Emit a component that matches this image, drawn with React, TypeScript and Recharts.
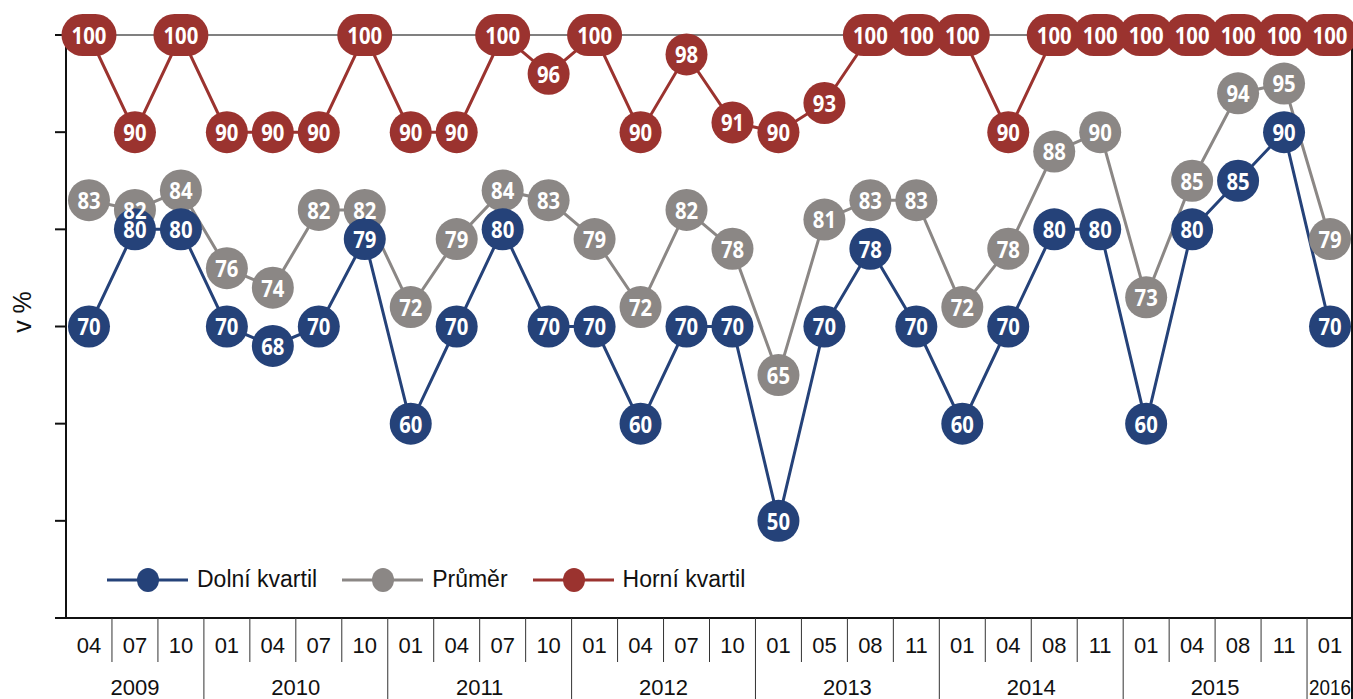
import React from 'react';
import { LineChart, Line, XAxis, YAxis, CartesianGrid, Legend, Customized } from 'recharts';

const months = ['04','07','10','01','04','07','10','01','04','07','10','01','04','07','10','01','05','08','11','01','04','08','11','01','04','08','11','01'];
const years = ['2009','2009','2009','2010','2010','2010','2010','2011','2011','2011','2011','2012','2012','2012','2012','2013','2013','2013','2013','2014','2014','2014','2014','2015','2015','2015','2015','2016'];
const dolni = [70,80,80,70,68,70,79,60,70,80,70,70,60,70,70,50,70,78,70,60,70,80,80,60,80,85,90,70];
const prumer = [83,82,84,76,74,82,82,72,79,84,83,79,72,82,78,65,81,83,83,72,78,88,90,73,85,94,95,79];
const horni = [100,90,100,90,90,90,100,90,90,100,96,100,90,98,91,90,93,100,100,100,90,100,100,100,100,100,100,100];
const yTicks = [40,50,60,70,80,90,100];

const SERIES = [
  { key: 'dolni', name: 'Dolní kvartil', color: '#254279' },
  { key: 'prumer', name: 'Průměr', color: '#8B8785' },
  { key: 'horni', name: 'Horní kvartil', color: '#9B332F' },
];

const data = months.map((m, i) => ({
  key: `${years[i]}-${m}-${i}`,
  dolni: dolni[i],
  prumer: prumer[i],
  horni: horni[i],
}));

const W = 1353;
const H = 699;
const LEFT = 66;
const TOP = 35;
const XH = 81;
const RIGHT = W;
const BOTTOM = H - XH;
const N = months.length;
const BW = (RIGHT - LEFT) / N;

const LABEL_FONT = "'Open Sans','DejaVu Sans Condensed',sans-serif";
const AXIS_FONT = "'Liberation Sans',Arial,sans-serif";

const pillBg = (color: string) => (p: any) => {
  const { x, y, value, index } = p;
  if (x == null || y == null) return null;
  const s = String(value);
  const w = s.length > 2 ? 55 : 42;
  return <rect key={`b-${color}-${index}`} x={x - w / 2} y={y - 21} width={w} height={42} rx={21} fill={color} />;
};

const pillText = (color: string) => (p: any) => {
  const { x, y, value, index } = p;
  if (x == null || y == null) return null;
  const s = String(value);
  return (
    <text key={`t-${color}-${index}`} x={x} y={y} dy="0.37em" textAnchor="middle" fill="#fff" fontWeight={700} fontSize={24} fontFamily={LABEL_FONT} textLength={s.length * 11.6} lengthAdjust="spacingAndGlyphs">{s}</text>
  );
};

const MonthTick = (props: any) => {
  const { x, payload } = props;
  const i = payload.index;
  const left = x - BW / 2;
  const yr = years[i];
  const first = i === 0 || years[i - 1] !== yr;
  const last = i === N - 1;
  const n = years.filter((v) => v === yr).length;
  return (
    <g>
      {i > 0 && <line x1={left} x2={left} y1={BOTTOM} y2={first ? H : 662} stroke="#333" strokeWidth={1} />}
      {last && <line x1={RIGHT - 1} x2={RIGHT - 1} y1={TOP} y2={H} stroke="#111" strokeWidth={2} />}
      <text x={x} y={653} textAnchor="middle" fontSize={22} fontFamily={AXIS_FONT} fill="#111">{months[i]}</text>
      {first && (
        n === 1 ? (
          <text x={left + BW / 2} y={695} textAnchor="middle" fontSize={22} fontFamily={AXIS_FONT} fill="#111" textLength={BW - 4} lengthAdjust="spacingAndGlyphs">{yr}</text>
        ) : (
          <text x={left + (n * BW) / 2} y={695} textAnchor="middle" fontSize={22} fontFamily={AXIS_FONT} fill="#111">{yr}</text>
        )
      )}
    </g>
  );
};

const LegendContent = () => (
  <div style={{ display: 'flex', alignItems: 'center', fontFamily: AXIS_FONT, fontSize: 23, color: '#111', whiteSpace: 'nowrap' }}>
    {SERIES.map((s) => (
      <div key={s.key} style={{ display: 'flex', alignItems: 'center', marginRight: 25 }}>
        <svg width={81} height={26}>
          <line x1={0} x2={81} y1={13} y2={13} stroke={s.color} strokeWidth={3} />
          <ellipse cx={41} cy={13} rx={11} ry={12} fill={s.color} />
        </svg>
        <span style={{ marginLeft: 9 }}>{s.name}</span>
      </div>
    ))}
  </div>
);

const YLabel = () => (
  <text x={31} y={312} transform="rotate(-90 31 312)" textAnchor="middle" fontSize={25} fontFamily={AXIS_FONT} fill="#111">v %</text>
);

const LABEL_ORDER = [SERIES[1], SERIES[0], SERIES[2]];

export default function App() {
  return (
    <div style={{ position: 'absolute', left: 0, top: 0, width: W, height: H, background: '#fff' }}>
      <LineChart width={W} height={H} data={data} margin={{ top: TOP, right: 0, bottom: 0, left: 0 }}>
        <CartesianGrid horizontal vertical={false} horizontalValues={[100]} stroke="#808080" strokeWidth={2} />
        <XAxis dataKey="key" interval={0} tickLine={false} tickSize={0} tickMargin={0} height={XH} padding={{ left: BW / 2, right: BW / 2 }} axisLine={{ stroke: '#111', strokeWidth: 2 }} tick={<MonthTick />} />
        <YAxis width={LEFT} domain={[40, 100]} ticks={yTicks} tickSize={11} tickLine={{ stroke: '#111', strokeWidth: 2 }} axisLine={{ stroke: '#111', strokeWidth: 2 }} tick={() => <g />} />
        {SERIES.map((s) => (
          <Line key={`l-${s.key}`} dataKey={s.key} name={s.name} stroke={s.color} strokeWidth={3} dot={false} activeDot={false} isAnimationActive={false} />
        ))}
        {LABEL_ORDER.map((s) => (
          <Line key={`b-${s.key}`} dataKey={s.key} legendType="none" stroke="none" dot={false} activeDot={false} isAnimationActive={false} label={pillBg(s.color)} />
        ))}
        {LABEL_ORDER.map((s) => (
          <Line key={`t-${s.key}`} dataKey={s.key} legendType="none" stroke="none" dot={false} activeDot={false} isAnimationActive={false} label={pillText(s.color)} />
        ))}
        <Legend verticalAlign="middle" align="center" layout="horizontal" content={<LegendContent />} wrapperStyle={{ left: 107, top: 566, width: 'auto' }} />
        <Customized component={<YLabel />} />
      </LineChart>
    </div>
  );
}
